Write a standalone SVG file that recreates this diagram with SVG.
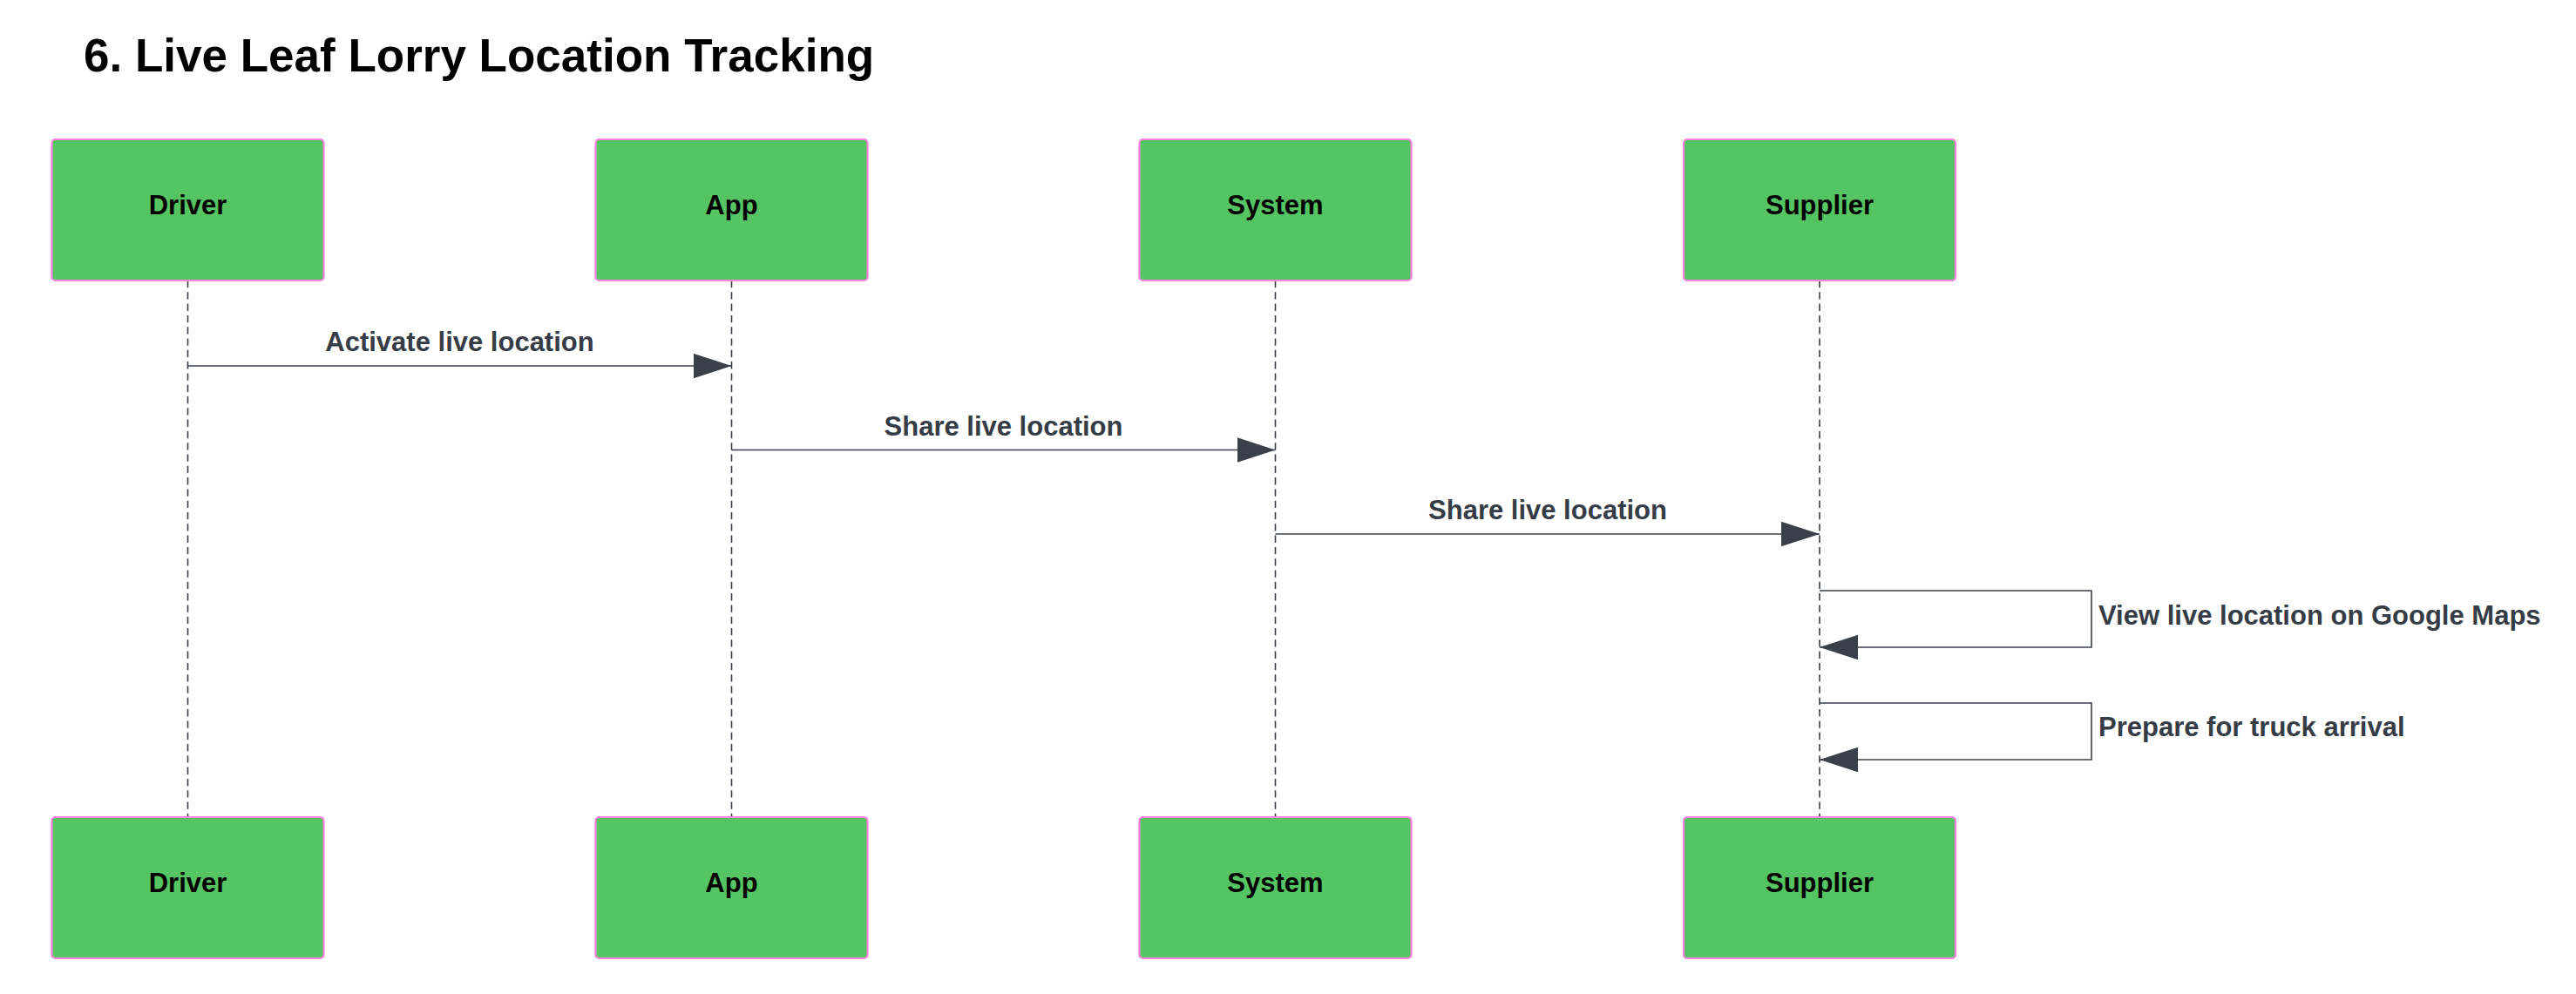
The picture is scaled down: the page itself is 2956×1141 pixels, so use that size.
<svg xmlns="http://www.w3.org/2000/svg" width="2956" height="1141" viewBox="0 0 2956 1141">
<style>
.actor rect{fill:#54c562;stroke:#ff80df;stroke-width:2.2}
.actor text{font-family:"Liberation Sans",Arial,sans-serif;font-weight:bold;font-size:31px;fill:#000;text-anchor:middle}
.life{stroke:#3a3f4a;stroke-width:1.6;stroke-dasharray:8.3 5;fill:none}
.msg{stroke:#3a3f4a;stroke-width:1.6;fill:none}
.lbl{font-family:"Liberation Sans",Arial,sans-serif;font-weight:bold;font-size:31px;fill:#363c46}
.title{font-family:"Liberation Sans",Arial,sans-serif;font-weight:bold;font-size:53px;fill:#000}
</style>
<defs>
<marker id="arrow" markerUnits="userSpaceOnUse" markerWidth="46" markerHeight="30" refX="44" refY="14.3" orient="auto">
<path d="M0,0 L44,14.3 L0,28.6 z" fill="#3a3f4a"/>
</marker>
</defs>
<rect width="2956" height="1141" fill="#fff"/>
<text class="title" x="96" y="82">6. Live Leaf Lorry Location Tracking</text>
<g id="lifelines">
<line class="life" x1="215.5" y1="322" x2="215.5" y2="938"/>
<line class="life" x1="839.5" y1="322" x2="839.5" y2="938"/>
<line class="life" x1="1463.5" y1="322" x2="1463.5" y2="938"/>
<line class="life" x1="2088" y1="322" x2="2088" y2="938"/>
</g>
<g id="actor-driver-top" class="actor"><rect x="59.5" y="160" width="312" height="162" rx="4"/><text x="215.5" y="246">Driver</text></g>
<g id="actor-app-top" class="actor"><rect x="683.5" y="160" width="312" height="162" rx="4"/><text x="839.5" y="246">App</text></g>
<g id="actor-system-top" class="actor"><rect x="1307.5" y="160" width="312" height="162" rx="4"/><text x="1463.5" y="246">System</text></g>
<g id="actor-supplier-top" class="actor"><rect x="1932" y="160" width="312" height="162" rx="4"/><text x="2088" y="246">Supplier</text></g>
<g id="actor-driver-bottom" class="actor"><rect x="59.5" y="938" width="312" height="162" rx="4"/><text x="215.5" y="1024">Driver</text></g>
<g id="actor-app-bottom" class="actor"><rect x="683.5" y="938" width="312" height="162" rx="4"/><text x="839.5" y="1024">App</text></g>
<g id="actor-system-bottom" class="actor"><rect x="1307.5" y="938" width="312" height="162" rx="4"/><text x="1463.5" y="1024">System</text></g>
<g id="actor-supplier-bottom" class="actor"><rect x="1932" y="938" width="312" height="162" rx="4"/><text x="2088" y="1024">Supplier</text></g>
<g id="connectors">
<line class="msg" x1="215.5" y1="420" x2="839.5" y2="420" marker-end="url(#arrow)"/>
<line class="msg" x1="839.5" y1="516.5" x2="1463.5" y2="516.5" marker-end="url(#arrow)"/>
<line class="msg" x1="1463.5" y1="613" x2="2088" y2="613" marker-end="url(#arrow)"/>
<path class="msg" d="M2088,678 H2400 V743 H2088" marker-end="url(#arrow)"/>
<path class="msg" d="M2088,807 H2400 V872 H2088" marker-end="url(#arrow)"/>
</g>
<g id="labels">
<text class="lbl" x="527.5" y="403" text-anchor="middle">Activate live location</text>
<text class="lbl" x="1151.5" y="500" text-anchor="middle">Share live location</text>
<text class="lbl" x="1776" y="596" text-anchor="middle">Share live location</text>
<text class="lbl" x="2408" y="717">View live location on Google Maps</text>
<text class="lbl" x="2408" y="845">Prepare for truck arrival</text>
</g>
</svg>
